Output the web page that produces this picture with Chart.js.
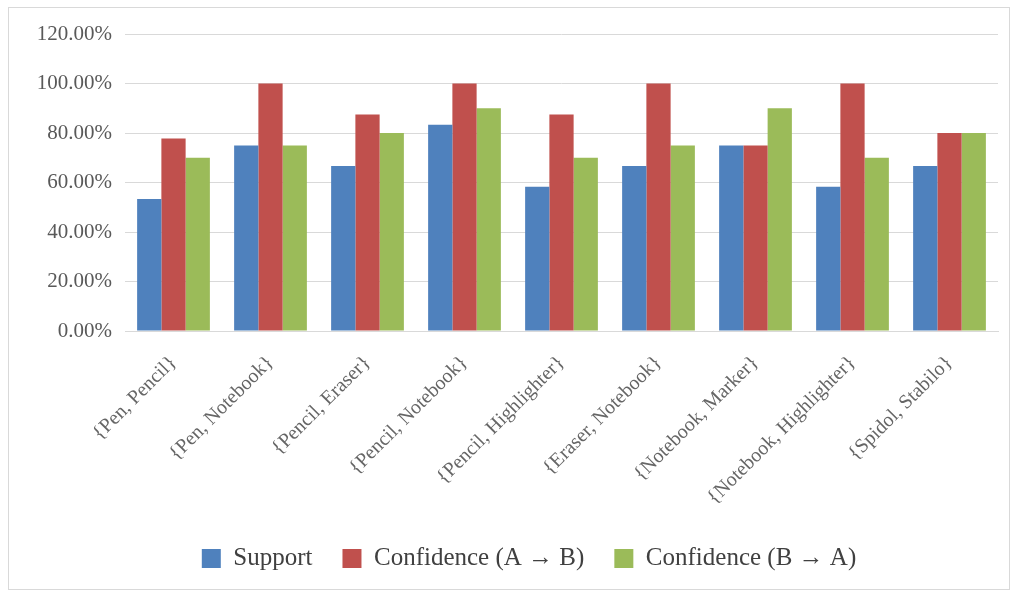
<!DOCTYPE html>
<html>
<head>
<meta charset="utf-8">
<script src="https://cdn.jsdelivr.net/npm/chart.js@4.4.0/dist/chart.umd.min.js"></script>
<style>
  html, body { margin: 0; padding: 0; background: #ffffff; }
  #wrap { position: relative; width: 1017px; height: 591px; }
  #frame { position: absolute; left: 8px; top: 7px; width: 1002px; height: 583px; border: 1px solid #d9d9d9; box-sizing: border-box; pointer-events: none; }
  canvas { position: absolute; left: 0; top: 0; }
</style>
</head>
<body>
<div id="wrap">
  <canvas id="c" width="1017" height="591"></canvas>
  <div id="frame"></div>
</div>
<script>
const categories = ["{Pen, Pencil}", "{Pen, Notebook}", "{Pencil, Eraser}", "{Pencil, Notebook}", "{Pencil, Highlighter}", "{Eraser, Notebook}", "{Notebook, Marker}", "{Notebook, Highlighter}", "{Spidol, Stabilo}"];
const support = [53.33, 75.00, 66.67, 83.33, 58.33, 66.67, 75.00, 58.33, 66.67];
const confidenceAB = [77.78, 100.00, 87.50, 100.00, 87.50, 100.00, 75.00, 100.00, 80.00];
const confidenceBA = [70.00, 75.00, 80.00, 90.00, 70.00, 75.00, 90.00, 70.00, 80.00];
const seriesNames = ["Support", "Confidence (A \u2192 B)", "Confidence (B \u2192 A)"];
const yTicks = [0, 20, 40, 60, 80, 100, 120];

const FONT = "'Liberation Serif', 'Times New Roman', serif";
const TEXT = "#595959";

const legendShift = {
  id: 'legendShift',
  afterLayout(chart) {
    const lg = chart.legend;
    if (lg) { lg.left += 16; lg.right += 16; }
  }
};

new Chart(document.getElementById('c'), {
  type: 'bar',
  data: {
    labels: categories,
    datasets: [
      { label: seriesNames[0], data: support, backgroundColor: '#4f81bd' },
      { label: seriesNames[1], data: confidenceAB, backgroundColor: '#c0504d' },
      { label: seriesNames[2], data: confidenceBA, backgroundColor: '#9bbb59' }
    ]
  },
  options: {
    responsive: false,
    animation: false,
    layout: { padding: { left: 28, right: 19, top: 34, bottom: 10 } },
    datasets: { bar: { barPercentage: 1.0, categoryPercentage: 0.75 } },
    scales: {
      x: {
        grid: { display: false, drawTicks: false },
        border: { display: true, color: '#d9d9d9' },
        ticks: { color: '#666666', font: { family: FONT, size: 20 }, minRotation: 45, maxRotation: 45, padding: 20, autoSkip: false },
        afterFit: (s) => { s.height = 185; }
      },
      y: {
        min: 0, max: 120,
        afterBuildTicks: (s) => { s.ticks = yTicks.map(v => ({ value: v })); },
        grid: { color: '#d9d9d9', lineWidth: 1, drawTicks: false },
        border: { display: false },
        ticks: { color: TEXT, font: { family: FONT, size: 21 }, padding: 13, callback: (v) => v.toFixed(2) + '%' },
        afterFit: (s) => { s.width = 97; }
      }
    },
    plugins: {
      legend: {
        position: 'bottom',
        labels: { color: '#404040', font: { family: FONT, size: 25 }, boxWidth: 19, boxHeight: 19, padding: 30 }
      },
      tooltip: { enabled: false }
    }
  },
  plugins: [legendShift]
});
</script>
</body>
</html>
